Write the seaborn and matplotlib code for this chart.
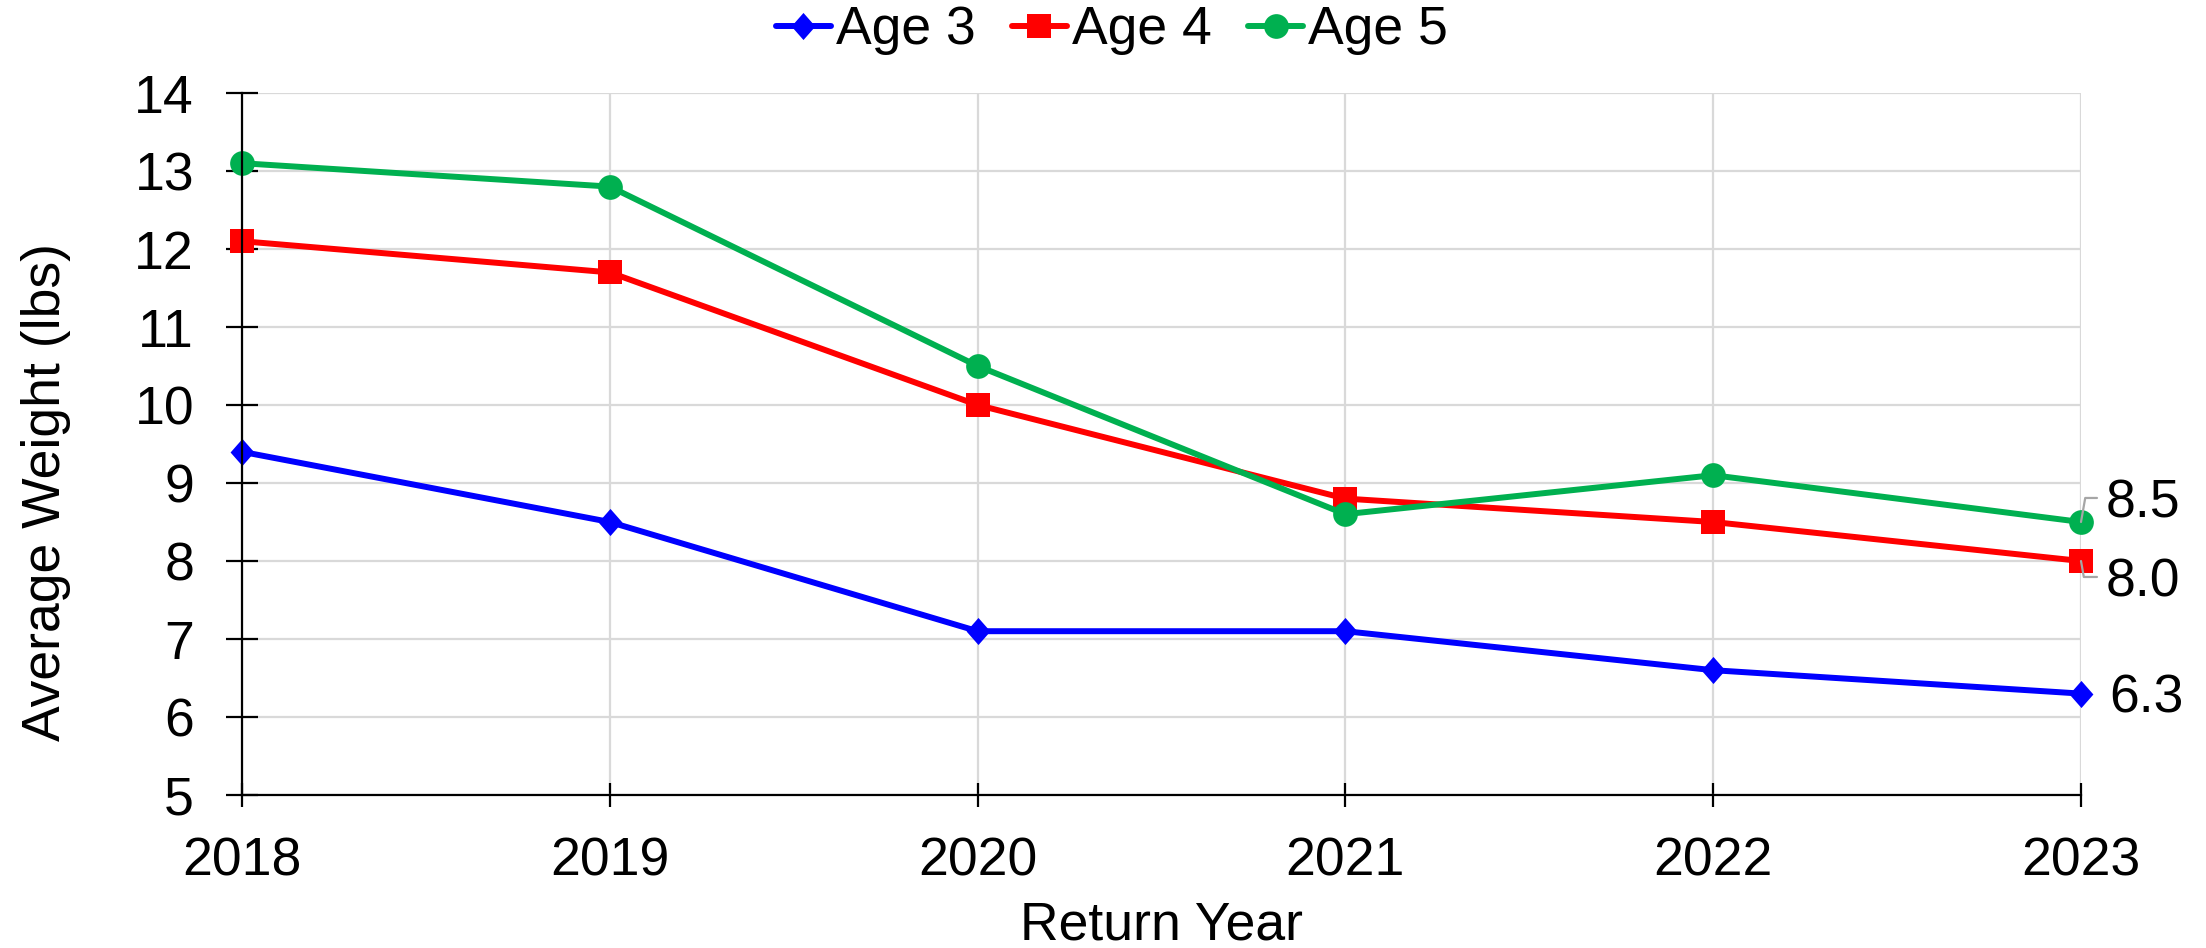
import matplotlib
matplotlib.use("Agg")
import matplotlib.pyplot as plt
import seaborn as sns
import pandas as pd
import numpy as np

years = [2018, 2019, 2020, 2021, 2022, 2023]
age3 = [9.4, 8.5, 7.1, 7.1, 6.6, 6.3]
age4 = [12.1, 11.7, 10.0, 8.8, 8.5, 8.0]
age5 = [13.1, 12.8, 10.5, 8.6, 9.1, 8.5]
series_names = ["Age 3", "Age 4", "Age 5"]
y_ticks = [5, 6, 7, 8, 9, 10, 11, 12, 13, 14]

sns.set_theme(style="white")
plt.rcParams['font.family'] = ['Liberation Sans', 'DejaVu Sans']
for k in ["text.color", "axes.labelcolor", "xtick.color", "ytick.color", "axes.edgecolor"]:
    plt.rcParams[k] = "black"
FS = 38.5

fig = plt.figure(figsize=(22.06, 9.48), dpi=100)
ax = fig.add_axes([242/2206, 1-795/948, (2081-242)/2206, (795-93)/948])

diamond = [(0, 1), (0.88, 0), (0, -1), (-0.88, 0), (0, 1)]
styles = [
    ("#0000FF", diamond, 19.5),
    ("#FF0000", "s", 17.2),
    ("#00B050", "o", 17.8),
]
data = [age3, age4, age5]
for name, vals, (col, mk, ms) in zip(series_names, data, styles):
    df = pd.DataFrame({"year": years, "weight": vals})
    sns.lineplot(data=df, x="year", y="weight", ax=ax, color=col, marker=mk,
                 markersize=ms, markeredgewidth=0, markeredgecolor=col,
                 linewidth=4.3, clip_on=False, label=name, legend=False)

ax.set_xlim(years[0], years[-1])
ax.set_ylim(y_ticks[0], y_ticks[-1])
ax.set_xticks(years)
ax.set_yticks(y_ticks)
ax.set_xticklabels([str(y) for y in years])

ax.grid(True, color="#D9D9D9", linewidth=1.6, zorder=0)
ax.set_axisbelow(True)
for s in ["top", "right"]:
    ax.spines[s].set_visible(False)
for s in ["left", "bottom"]:
    ax.spines[s].set_color("black")
    ax.spines[s].set_linewidth(1.6)

ax.tick_params(axis="y", direction="inout", length=23, width=1.6, pad=23.0,
               labelsize=FS, colors="black", left=True)
ax.tick_params(axis="x", direction="inout", length=17.3, width=1.6, pad=21.0,
               labelsize=FS, colors="black", bottom=True)

ax.set_xlabel("Return Year", fontsize=FS, color="black")
ax.set_ylabel("Average Weight (lbs)", fontsize=FS, color="black")
ax.xaxis.label.set_va("baseline")
ax.xaxis.set_label_coords(0.5, (795-939)/702)
ax.yaxis.label.set_va("baseline")
ax.yaxis.set_label_coords((60-242)/1839, (795-492)/702)

# data labels for final year
last_x = years[-1]
label_specs = [
    (age5[-1], (18.0, 2.9), (11.5, 17.3), 80),
    (age4[-1], (18.0, -25.9), (11.5, -11.5), -80),
    (age3[-1], (20.0, -13.3), None, None),
]
for val, off, lead, ang in label_specs:
    ax.annotate(f"{val:.1f}", xy=(last_x, val), xytext=off,
                textcoords="offset points", ha="left", va="baseline",
                fontsize=FS, color="black", annotation_clip=False)
    if lead is not None:
        ax.annotate("", xy=(last_x, val), xytext=lead,
                    textcoords="offset points", annotation_clip=False,
                    arrowprops=dict(arrowstyle="-", color="#A6A6A6", lw=1.6,
                                    shrinkA=0, shrinkB=0,
                                    connectionstyle=f"angle,angleA=0,angleB={ang},rad=0"),
                    zorder=5)

handles = ax.get_lines()[:3]
fig.legend(handles, series_names, loc="center", bbox_to_anchor=(0.504, 0.968),
           ncol=3, frameon=False, fontsize=FS, handlelength=1.03,
           handletextpad=0.09, columnspacing=0.68, borderpad=0, borderaxespad=0,
           labelcolor="black")

fig.savefig("out.png", dpi=100)
